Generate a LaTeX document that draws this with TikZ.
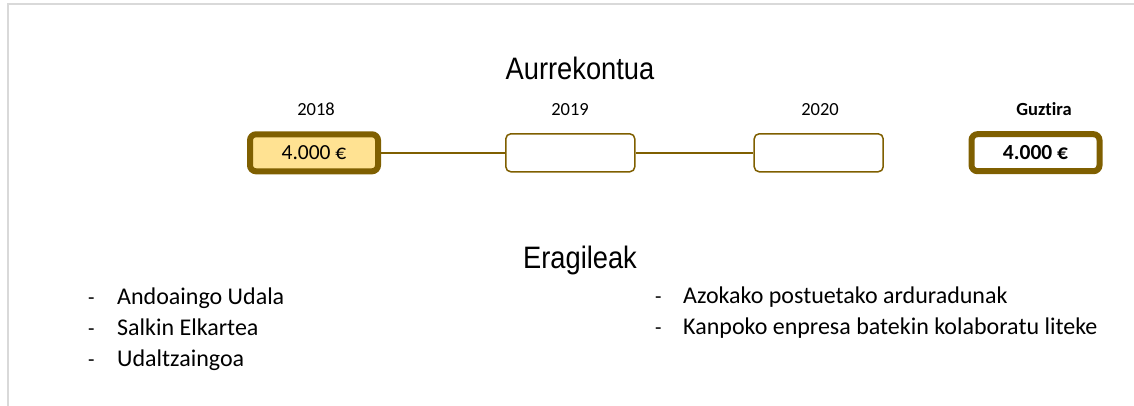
\documentclass[tikz,border=0pt]{standalone}
\usepackage{fontspec}
\setmainfont{Carlito}[Ligatures=NoCommon]
\newfontfamily\headfont[FakeStretch=0.88]{Liberation Sans}
\definecolor{budgetbrown}{HTML}{7F5F00}
\definecolor{budgetgold}{HTML}{FFE292}
\definecolor{framegray}{HTML}{D9D9D9}
\tikzset{
    yearlabel/.style={anchor=base,font=\fontsize{18.5}{22}\selectfont},
    yearbox/.style={draw=budgetbrown,line width=1.5pt,rounded corners=5pt,fill=white,
                    minimum width=129pt,minimum height=38pt,inner sep=0pt},
    sumbox/.style={draw=budgetbrown,line width=6pt,rounded corners=6pt,
                   minimum width=128pt,minimum height=37pt,inner sep=0pt,
                   font=\fontsize{21.5}{25}\selectfont},
    heading/.style={anchor=base,font=\headfont\fontsize{31}{36}\selectfont},
    itemtext/.style={anchor=base west,inner sep=0pt,font=\fontsize{24}{29}\selectfont},
    itemdash/.style={anchor=base west,inner sep=0pt,font=\fontsize{21}{25}\selectfont},
    link/.style={draw=budgetbrown,line width=1.8pt}
}
\begin{document}
\begin{tikzpicture}[x=1pt,y=-1pt]
    \useasboundingbox (0,0) rectangle (1134,406);

    % Frame
    \draw[framegray,line width=1.5pt] (8,406) -- (8,4) -- (1134,4);

    % Budget
    \node[heading] (budgettitle) at (580,79.3) {Aurrekontua};

    \node[yearlabel] (lbl2018) at (316,115.7) {2018};
    \node[yearlabel] (lbl2019) at (570,115.7) {2019};
    \node[yearlabel] (lbl2020) at (820,115.7) {2020};
    \node[yearlabel,font=\bfseries\fontsize{18.5}{22}\selectfont] (lbltotal) at (1044,115.7) {Guztira};

    \node[sumbox,fill=budgetgold] (y2018) at (314,152.8) {4.000 €};
    \node[yearbox] (y2019) at (570.3,152.8) {};
    \node[yearbox] (y2020) at (818.7,152.8) {};
    \node[sumbox,fill=white,font=\bfseries\fontsize{21.5}{25}\selectfont] (total) at (1035.5,152.7) {4.000 €};

    \draw[link] (y2018.east) -- (y2019.west);
    \draw[link] (y2019.east) -- (y2020.west);

    % Agents
    \node[heading] (agentstitle) at (580,268.3) {Eragileak};

    \node[itemdash] (dasha) at (88,304.3) {-};
    \node[itemtext] (agenta) at (117,304.3) {Andoaingo Udala};
    \node[itemdash] (dashb) at (88,335.5) {-};
    \node[itemtext] (agentb) at (117,335.5) {Salkin Elkartea};
    \node[itemdash] (dashc) at (88,366.7) {-};
    \node[itemtext] (agentc) at (117,366.7) {Udaltzaingoa};

    \node[itemdash] (dashd) at (655,303.3) {-};
    \node[itemtext] (agentd) at (683,303.3) {Azokako postuetako arduradunak};
    \node[itemdash] (dashe) at (655,334.3) {-};
    \node[itemtext] (agente) at (683,334.3) {Kanpoko enpresa batekin kolaboratu liteke};
\end{tikzpicture}
\end{document}
